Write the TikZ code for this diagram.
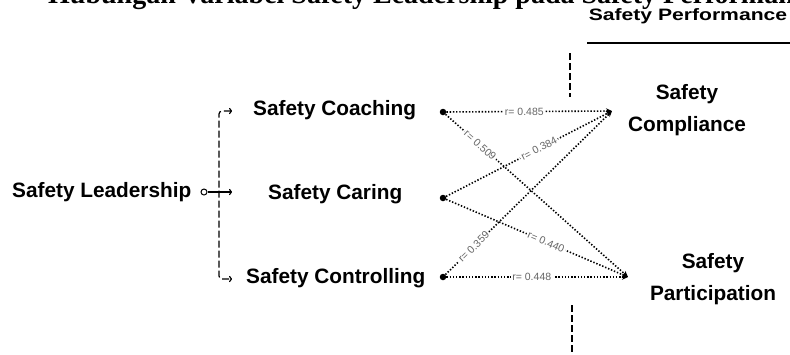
\documentclass[tikz,border=0pt]{standalone}
\usepackage{fontspec}
\usepackage{graphicx}
\setmainfont{Liberation Sans}
\newfontfamily\titlefont{Liberation Serif}
\usetikzlibrary{arrows.meta}
\begin{document}
\begin{tikzpicture}[x=1pt,y=-1pt,
	lbl/.style={font=\fontsize{20.8}{32}\selectfont\bfseries, inner sep=0pt},
	corr/.style={line width=1.6pt, dash pattern=on 1.4pt off 1.8pt, -{Stealth[length=6pt,width=5.5pt]}},
	rval/.style={font=\fontsize{10.5}{11}\selectfont, text=black!60, fill=white, inner sep=1.5pt, sloped},
	pt/.style={fill=black,circle,inner sep=0pt,minimum size=6.5pt},
	brk/.style={line width=1.2pt, dash pattern=on 7pt off 3pt}]
	\useasboundingbox (0,0) rectangle (790,354);

	%title, cut off at the top
	\node[anchor=base west, inner sep=0pt, font=\titlefont\fontsize{28}{30}\selectfont\bfseries] (title) at (48,3)
	{Hubungan Variabel Safety Leadership pada Safety Performance};

	%header
	\node[font=\fontsize{16.5}{20}\selectfont\bfseries, inner sep=0pt] (perf) at (688,16) {\scalebox{1.28}[1]{Safety Performance}};
	\draw[line width=2pt] (587,43) -- (790,43);
	\draw[brk, line width=1.5pt] (570,53) -- (570,97);
	\draw[brk, line width=1.5pt] (572,305) -- (572,354);

	%safety leadership
	\node[lbl, anchor=west] (lead) at (12,192) {Safety Leadership};
	\node[draw, circle, inner sep=0pt, minimum size=6pt, line width=1pt] (ldot) at (204,192) {};
	\coordinate (tcoach) at (232,111);
	\coordinate (tcaring) at (232,192);
	\coordinate (tcontrol) at (232,279);
	\draw[line width=1.2pt, -{To[length=3pt]}] (ldot) -- (tcaring);
	\draw[brk, rounded corners=3pt, {To[length=3pt]}-{To[length=3pt]}] (tcoach) -| (219,279) -- (tcontrol);

	%dimensions
	\node[lbl, anchor=west] (coach) at (253,110) {Safety Coaching};
	\node[lbl, anchor=west] (caring) at (268,194) {Safety Caring};
	\node[lbl, anchor=west] (control) at (246,278) {Safety Controlling};
	\node[pt] (coachpt) at (443,112) {};
	\node[pt] (caringpt) at (443,198) {};
	\node[pt] (controlpt) at (443,277) {};

	%outcomes
	\node[lbl, align=center] (comp) at (687,110) {Safety\\Compliance};
	\node[lbl, align=center] (part) at (713,279) {Safety\\Participation};
	\coordinate (tcomp) at (612,111);
	\coordinate (tpart) at (628,277);

	%correlations
	\draw[corr] (coachpt) -- node[rval, pos=0.47] {r= 0.485} (tcomp);
	\draw[corr] (coachpt) -- node[rval, pos=0.19] {r= 0.509} (tpart);
	\draw[corr] (caringpt) -- node[rval, pos=0.56] {r= 0.384} (tcomp);
	\draw[corr] (caringpt) -- node[rval, pos=0.55] {r= 0.440} (tpart);
	\draw[corr] (controlpt) -- node[rval, pos=0.17] {r= 0.359} (tcomp);
	\draw[corr] (controlpt) -- node[rval, pos=0.47] {r= 0.448} (tpart);

\end{tikzpicture}
\end{document}
